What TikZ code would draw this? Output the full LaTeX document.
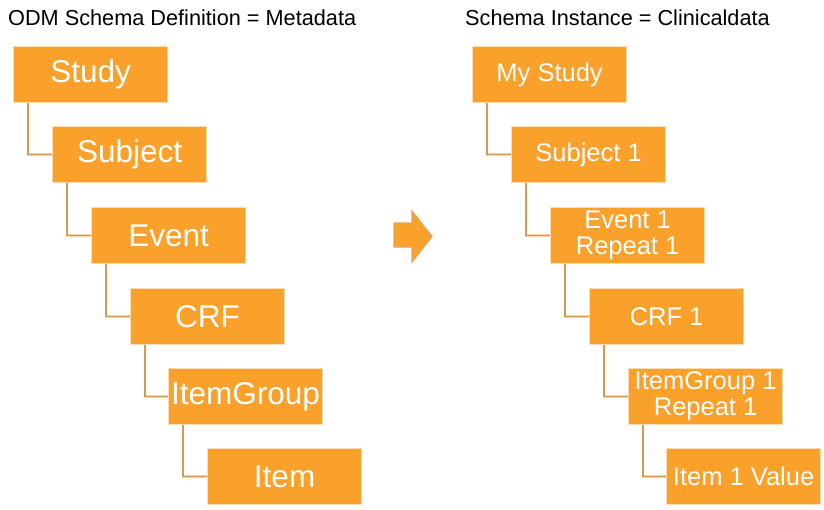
\documentclass[tikz,border=0pt]{standalone}
\usepackage{fontspec}
\setmainfont{Liberation Sans}
\definecolor{boxfill}{HTML}{F9A12A}
\definecolor{boxline}{HTML}{FCDCB0}
\definecolor{conout}{HTML}{F6D3A6}
\definecolor{conin}{HTML}{D49B58}
\definecolor{arrline}{HTML}{E2A45A}
\begin{document}
\begin{tikzpicture}[x=1pt,y=-1pt,
  obox/.style={draw=boxline, line width=1.2pt, fill=boxfill, text=white,
    minimum width=154pt, minimum height=56pt, inner sep=0pt, anchor=north west,
    align=center},
  big/.style={obox, font=\fontsize{31.5}{33}\selectfont},
  small/.style={obox, font=\fontsize{25.5}{26}\selectfont},
  conn/.style={draw=conout, line width=0.7pt, double=conin, double distance=1.3pt},
  ttl/.style={anchor=base west, inner sep=0pt, font=\fontsize{21.7}{24}\selectfont}
]
\useasboundingbox (0,0) rectangle (824,509);
\node[ttl] (t1) at (8,25) {ODM Schema Definition = Metadata};
\node[ttl] (t2) at (465,25) {Schema Instance = Clinicaldata};

% left column
\node[big] (l1) at (13,46) {Study};
\node[big] (l2) at (52,126) {Subject};
\node[big] (l3) at (91,207) {Event};
\node[big] (l4) at (130,288) {CRF};
\node[big] (l5) at (168,368) {ItemGroup};
\node[big] (l6) at (207,448) {Item};

% right column
\node[small] (r1) at (472,46) {My Study};
\node[small] (r2) at (511,126) {Subject 1};
\node[small] (r3) at (550,207) {Event 1\\Repeat 1};
\node[small] (r4) at (589,288) {CRF 1};
\node[small] (r5) at (628,368) {ItemGroup 1\\Repeat 1};
\node[small] (r6) at (666,448) {Item 1 Value};

\foreach \a/\b in {l1/l2,l2/l3,l3/l4,l4/l5,l5/l6,r1/r2,r2/r3,r3/r4,r4/r5,r5/r6}{
  \draw[conn] ([xshift=15pt]\a.south west) |- (\b.west);
}

% block arrow
\fill[boxfill, draw=arrline, line width=1.2pt]
  (394,223) -- (412,223) -- (412,211) -- (432,236.5) -- (412,262) -- (412,247) -- (394,247) -- cycle;
\end{tikzpicture}
\end{document}
